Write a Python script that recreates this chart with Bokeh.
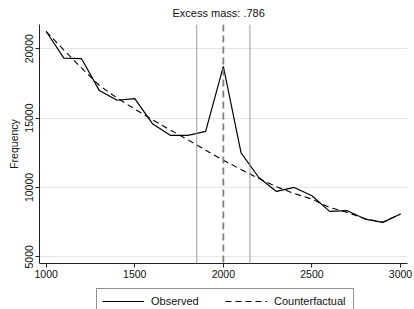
from bokeh.plotting import figure
from bokeh.layouts import column
from bokeh.models import Range1d, FixedTicker, Span, Legend, LegendItem
from bokeh.embed import file_html
from bokeh.resources import INLINE

# ---- data ----
bins = [1000, 1100, 1200, 1300, 1400, 1500, 1600, 1700, 1800, 1900, 2000,
        2100, 2200, 2300, 2400, 2500, 2600, 2700, 2800, 2900, 3000]
observed = [21243, 19325, 19280, 16983, 16286, 16408, 14598, 13757, 13757, 14042, 18728,
            12486, 10718, 9713, 10000, 9404, 8276, 8324, 7723, 7485, 8082]
counterfactual = [21243, 19900, 18600, 17350, 16450, 15650, 14880, 14140, 13440, 12680, 11960,
                  11290, 10640, 10050, 9560, 9160, 8560, 8200, 7750, 7490, 8080]
excluded_bounds = [1850, 2150]
threshold = 2000
x_ticks = [1000, 1500, 2000, 2500, 3000]
y_ticks = [5000, 10000, 15000, 20000]
title_text = "Excess mass: .786"
y_label = "Frequency"
series_names = ["Observed", "Counterfactual"]

FONT = "Liberation Sans"
INK = "#111111"

p = figure(width=414, height=282, output_backend="svg", toolbar_location=None,
           x_range=Range1d(962.2, 3039.5), y_range=Range1d(4518, 21747),
           min_border_left=39, min_border_right=7, min_border_top=23, min_border_bottom=19)
p.outline_line_color = None
p.background_fill_color = "white"

# title
p.title.text = title_text
p.title.align = "left"
p.title.offset = 133
p.title.vertical_align = "middle"
p.title.text_font = FONT
p.title.text_font_size = "11px"
p.title.text_font_style = "normal"
p.title.text_color = INK

# grid
p.xgrid.grid_line_color = None
p.ygrid.grid_line_color = "#e6e6e6"
p.ygrid.grid_line_width = 1
p.yaxis.ticker = FixedTicker(ticks=y_ticks)
p.xaxis.ticker = FixedTicker(ticks=x_ticks)

for ax in (p.xaxis, p.yaxis):
    ax.axis_line_color = "#222222"
    ax.major_tick_line_color = "#222222"
    ax.minor_tick_line_color = None
    ax.major_tick_out = 4
    ax.major_tick_in = 0
    ax.major_label_text_font = FONT
    ax.major_label_text_font_size = "10.5px"
    ax.major_label_text_color = INK
    ax.major_label_standoff = 2

p.yaxis.major_label_orientation = "vertical"
p.yaxis.axis_label = y_label
p.yaxis.axis_label_text_font = FONT
p.yaxis.axis_label_text_font_size = "10.5px"
p.yaxis.axis_label_text_font_style = "normal"
p.yaxis.axis_label_standoff = 3
p.yaxis.axis_label_text_color = INK

# vertical reference lines
for b in excluded_bounds:
    p.add_layout(Span(location=b, dimension="height", line_color="#9a9a9a", line_width=1))
p.add_layout(Span(location=threshold, dimension="height", line_color="#808080",
                  line_width=1.8, line_dash="7 4"))

OBS_STYLE = dict(line_color="black", line_width=1.2)
CF_STYLE = dict(line_color="black", line_width=1.1, line_dash="6 4")

p.line(bins, observed, **OBS_STYLE)
p.line(bins, counterfactual, **CF_STYLE)

# ---- legend strip (box runs past the bottom edge, as in the reference) ----
# the strip's frame is aligned with the main frame (starts at x=39)
leg = figure(width=414, height=27, output_backend="svg", toolbar_location=None,
             x_axis_type=None, y_axis_type=None, x_range=Range1d(0, 1), y_range=Range1d(0, 1),
             min_border_left=0, min_border_right=0, min_border_top=0, min_border_bottom=0)
leg.outline_line_color = None
leg.xgrid.grid_line_color = None
leg.ygrid.grid_line_color = None
# series drawn outside this strip's view; used only as legend samples
l_obs = leg.line(bins, observed, **OBS_STYLE)
l_cf = leg.line(bins, counterfactual, **CF_STYLE)

legend = Legend(items=[LegendItem(label=series_names[0], renderers=[l_obs]),
                       LegendItem(label=series_names[1], renderers=[l_cf])],
                orientation="horizontal", location=(57, -5),
                border_line_color="#222222", border_line_width=1,
                label_text_font=FONT, label_text_font_size="11px",
                label_text_color=INK,
                glyph_width=42, glyph_height=14, label_height=14, label_width=74,
                spacing=-4, padding=5, margin=0, label_standoff=7,
                background_fill_color="white", background_fill_alpha=1)
leg.add_layout(legend)

layout = column(p, leg, spacing=0)

open("out.html", "w").write(file_html(layout, INLINE))
